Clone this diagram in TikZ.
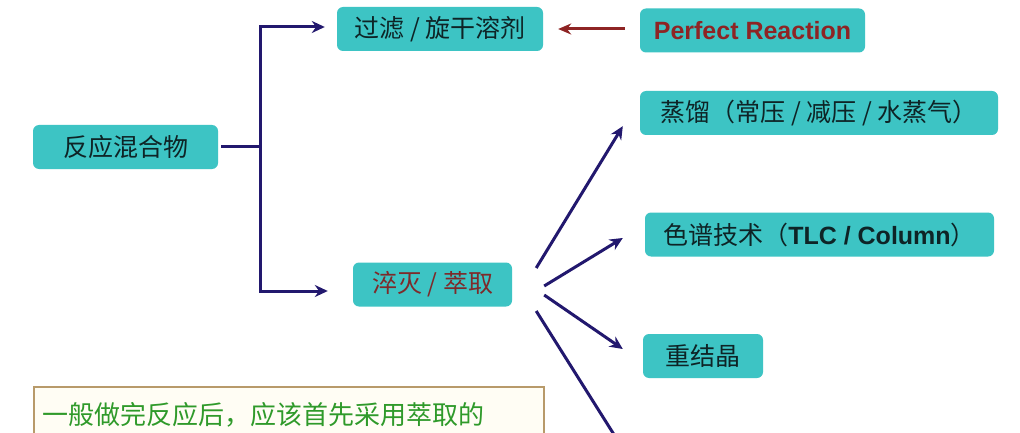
\documentclass[tikz,border=0pt]{standalone}
\usepackage{fontspec}
\setmainfont{Noto Sans CJK SC}
\newfontfamily\latinbold{Liberation Sans}
\usetikzlibrary{arrows.meta}
\definecolor{boxteal}{HTML}{3DC4C4}
\definecolor{boxtext}{HTML}{0E2426}
\definecolor{navyline}{HTML}{22186E}
\definecolor{darkred}{HTML}{8E2424}
\definecolor{quenchred}{HTML}{7E2A2A}
\definecolor{notegreen}{HTML}{2F9A2A}
\definecolor{noteborder}{HTML}{B89A6A}
\definecolor{notefill}{HTML}{FFFDF4}
\tikzset{
  tealbox/.style={fill=boxteal, rounded corners=6pt, inner sep=0pt,
    minimum height=44pt, text=boxtext, font=\fontsize{25}{30}\selectfont},
  navyseg/.style={draw=navyline, line width=3pt},
  navyarrow/.style={draw=navyline, line width=3pt, -{Stealth[length=13pt,width=12pt]}},
  redarrow/.style={draw=darkred, line width=3pt, -{Stealth[length=13pt,width=11pt]}},
}
\begin{document}
\begin{tikzpicture}[x=1pt,y=-1pt]
\clip (0,0) rectangle (1020,433);
\fill[white] (0,0) rectangle (1020,433);

% boxes
\node[tealbox, minimum width=185pt] (mix) at (125.5,147) {反应混合物};
\node[tealbox, minimum width=206pt] (filt) at (440,29) {过滤 / 旋干溶剂};
\node[tealbox, minimum width=225pt, text=darkred, font=\latinbold\bfseries\fontsize{25}{30}\selectfont] (perf) at (752.5,30.5) {Perfect Reaction};
\node[tealbox, minimum width=159pt, text=quenchred] (quench) at (432.5,284.5) {淬灭 / 萃取};
\node[tealbox, minimum width=358pt] (dist) at (819,113) {蒸馏（常压 / 减压 / 水蒸气）};
\node[tealbox, minimum width=349pt] (chrom) at (819.5,234.5) {色谱技术（{\latinbold\bfseries TLC / Column}）};
\node[tealbox, minimum width=120pt] (recr) at (703,356) {重结晶};

% note box
\node[draw=noteborder, line width=2pt, fill=notefill, minimum width=510pt, minimum height=90pt, anchor=north west] (note) at (33,386) {};
\node[anchor=west, text=notegreen, font=\fontsize{26}{30}\selectfont, inner sep=0pt] (notetext) at (42,415) {一般做完反应后，应该首先采用萃取的};

% tree connectors
\coordinate (jt) at (260,27);
\coordinate (jb) at (260,291);
\draw[navyseg] ([xshift=3pt]mix.east) -- (mix.east -| jt);
\draw[navyseg, line cap=rect] (jt) -- (jb);
\draw[navyarrow] (jt) -- ([xshift=-12pt]filt.west |- jt);
\draw[navyarrow] (jb) -- ([xshift=-25pt]quench.west |- jb);

% red arrow
\draw[redarrow] ([xshift=-15pt,yshift=1.5pt]perf.west) -- ([xshift=15pt]filt.east);

% fan from quench
\coordinate (t4) at (630,460);
\draw[navyarrow] ([xshift=24pt,yshift=16.5pt]quench.east) -- ([xshift=-17pt,yshift=9pt]dist.south west);
\draw[navyarrow] ([xshift=32pt,yshift=-1.5pt]quench.east) -- ([xshift=-22pt,yshift=-3.5pt]chrom.west);
\draw[navyarrow] ([xshift=32pt,yshift=-10.5pt]quench.east) -- ([xshift=-20pt,yshift=7pt]recr.west);
\draw[navyseg] ([xshift=24pt,yshift=-26.5pt]quench.east) -- (t4);
\end{tikzpicture}
\end{document}
